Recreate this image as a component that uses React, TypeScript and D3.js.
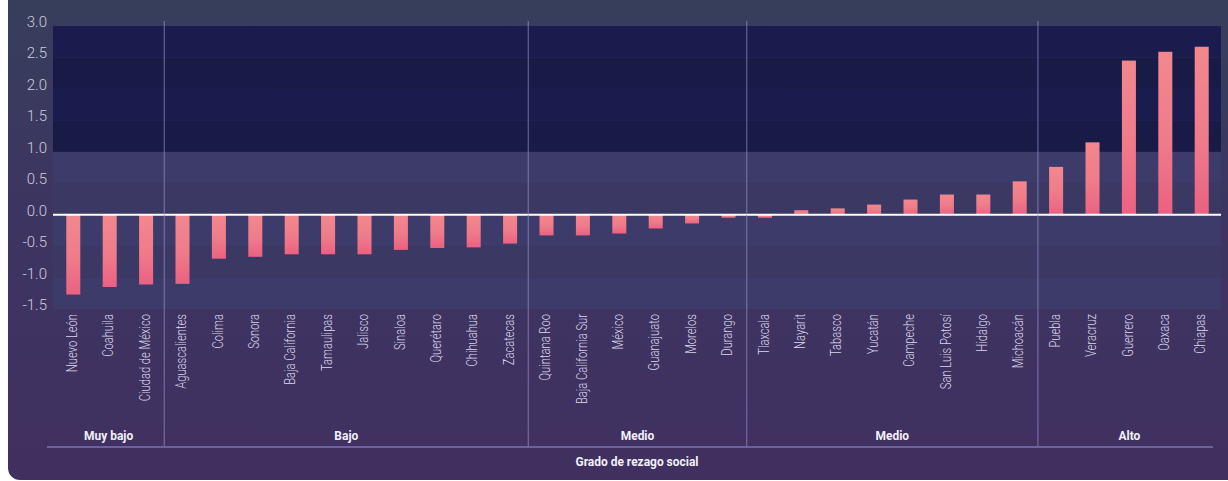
import { useEffect, useRef } from "react";
import * as d3 from "d3";

// Entidades ordenadas por índice de rezago social
const states = [
  "Nuevo León", "Coahuila", "Ciudad de México",
  "Aguascalientes", "Colima", "Sonora", "Baja California", "Tamaulipas", "Jalisco", "Sinaloa", "Querétaro", "Chihuahua", "Zacatecas",
  "Quintana Roo", "Baja California Sur", "México", "Guanajuato", "Morelos", "Durango",
  "Tlaxcala", "Nayarit", "Tabasco", "Yucatán", "Campeche", "San Luis Potosí", "Hidalgo", "Michoacán",
  "Puebla", "Veracruz", "Guerrero", "Oaxaca", "Chiapas",
];

const values = [
  -1.27, -1.15, -1.11,
  -1.10, -0.70, -0.67, -0.63, -0.63, -0.63, -0.56, -0.53, -0.52, -0.46,
  -0.33, -0.33, -0.30, -0.22, -0.14, -0.05,
  -0.05, 0.07, 0.10, 0.16, 0.24, 0.32, 0.32, 0.53,
  0.76, 1.15, 2.45, 2.59, 2.67,
];

const groupLabels = ["Muy bajo", "Bajo", "Medio", "Medio", "Alto"];
const groupCounts = [3, 10, 6, 8, 5];

const yTicks = [-1.5, -1.0, -0.5, 0.0, 0.5, 1.0, 1.5, 2.0, 2.5, 3.0];

const axisTitle = "Grado de rezago social";

export default function App() {
  const svgRef = useRef<SVGSVGElement | null>(null);

  useEffect(() => {
    const width = 1228;
    const height = 481;
    const plotLeft = 53;
    const plotRight = 1221;
    const plotTop = 26;
    const plotBottom = 309;
    const font = "Roboto, 'Noto Sans', sans-serif";

    const svg = d3.select(svgRef.current)
      .attr("width", width)
      .attr("height", height);
    svg.selectAll("*").remove();

    const defs = svg.append("defs");
    const bg = defs.append("linearGradient")
      .attr("id", "cardBg")
      .attr("x1", 0).attr("y1", 0).attr("x2", 0).attr("y2", 1);
    bg.append("stop").attr("offset", "0%").attr("stop-color", "#363f5b");
    bg.append("stop").attr("offset", "45%").attr("stop-color", "#3d3561");
    bg.append("stop").attr("offset", "100%").attr("stop-color", "#403060");

    const barGrad = defs.append("linearGradient")
      .attr("id", "barGrad")
      .attr("x1", 0).attr("y1", 0).attr("x2", 0).attr("y2", 1);
    barGrad.append("stop").attr("offset", "0%").attr("stop-color", "#f2888e");
    barGrad.append("stop").attr("offset", "55%").attr("stop-color", "#ef7b8a");
    barGrad.append("stop").attr("offset", "100%").attr("stop-color", "#eb6182");

    // page + card
    svg.append("rect").attr("width", width).attr("height", height).attr("fill", "#ffffff");
    svg.append("rect")
      .attr("x", 8).attr("y", -20)
      .attr("width", width + 20).attr("height", height + 19)
      .attr("rx", 12)
      .attr("fill", "url(#cardBg)");

    const x = d3.scaleBand<string>()
      .domain(states)
      .range([55, 1220])
      .paddingInner(0.615)
      .paddingOuter(0.31);

    const y = d3.scaleLinear()
      .domain([-1.5, 3])
      .range([plotBottom, plotTop]);

    // banded background
    const bands = yTicks.slice(0, -1);
    svg.append("g")
      .selectAll("rect")
      .data(bands)
      .join("rect")
      .attr("x", plotLeft)
      .attr("width", plotRight - plotLeft)
      .attr("y", d => y(d + 0.5))
      .attr("height", d => y(d) - y(d + 0.5))
      .attr("fill", (d, i) => d >= 1
        ? (i % 2 === 0 ? "#1a1c4d" : "#171b46")
        : (i % 2 === 0 ? "#3d3b69" : "#3b3964"));

    // y labels
    svg.append("g")
      .selectAll("text")
      .data(yTicks)
      .join("text")
      .attr("x", 47)
      .attr("y", d => y(d) - 3)
      .attr("text-anchor", "end")
      .attr("dominant-baseline", "middle")
      .attr("font-family", font)
      .attr("font-weight", 300)
      .attr("font-size", 15)
      .attr("fill", "#cbcbdd")
      .text(d => d.toFixed(1));

    // bars
    svg.append("g")
      .selectAll("rect")
      .data(states)
      .join("rect")
      .attr("x", d => x(d) ?? 0)
      .attr("width", x.bandwidth())
      .attr("y", (d, i) => y(Math.max(0, values[i])))
      .attr("height", (d, i) => Math.abs(y(values[i]) - y(0)))
      .attr("fill", "url(#barGrad)");

    // zero line
    svg.append("line")
      .attr("x1", plotLeft).attr("x2", plotRight)
      .attr("y1", y(0)).attr("y2", y(0))
      .attr("stroke", "#ffffff")
      .attr("stroke-width", 2);

    // x labels
    svg.append("g")
      .selectAll("text")
      .data(states)
      .join("text")
      .attr("transform", d => `translate(${(x(d) ?? 0) + x.bandwidth() / 2},314) rotate(-90) scale(0.8,1)`)
      .attr("text-anchor", "end")
      .attr("dominant-baseline", "middle")
      .attr("font-family", font)
      .attr("font-weight", 300)
      .attr("font-size", 14)
      .attr("fill", "#dad7ea")
      .text(d => d);

    // group separators and labels
    const step = x.step();
    const half = (step * x.paddingInner()) / 2;
    let start = 0;
    const groups = groupLabels.map((label, gi) => {
      const first = states[start];
      const last = states[start + groupCounts[gi] - 1];
      start += groupCounts[gi];
      return {
        label,
        x0: (x(first) ?? 0) - half,
        x1: (x(last) ?? 0) + x.bandwidth() + half,
      };
    });

    svg.append("g")
      .selectAll("line")
      .data(groups.slice(1))
      .join("line")
      .attr("x1", d => d.x0).attr("x2", d => d.x0)
      .attr("y1", 21).attr("y2", 447)
      .attr("stroke", "#9a90d0")
      .attr("stroke-opacity", 0.55)
      .attr("stroke-width", 1.3);

    svg.append("line")
      .attr("x1", 47).attr("x2", 1213)
      .attr("y1", 447).attr("y2", 447)
      .attr("stroke", "#7d72b2")
      .attr("stroke-width", 1.3);

    svg.append("g")
      .selectAll("text")
      .data(groups)
      .join("text")
      .attr("transform", (d, i) => {
        const cx = i === 0 ? (plotLeft + d.x1) / 2 : i === groups.length - 1 ? (d.x0 + plotRight) / 2 : (d.x0 + d.x1) / 2;
        return `translate(${cx},440) scale(0.92,1)`;
      })
      .attr("text-anchor", "middle")
      .attr("font-family", font)
      .attr("font-weight", 700)
      .attr("font-size", 13)
      .attr("fill", "#f2f0fa")
      .text(d => d.label);

    svg.append("text")
      .attr("transform", `translate(${(plotLeft + plotRight) / 2},466) scale(0.92,1)`)
      .attr("text-anchor", "middle")
      .attr("font-family", font)
      .attr("font-weight", 700)
      .attr("font-size", 13)
      .attr("fill", "#f2f0fa")
      .text(axisTitle);
  }, []);

  return (
    <svg
      ref={svgRef}
      style={{ position: "absolute", left: 0, top: 0, display: "block" }}
    />
  );
}
